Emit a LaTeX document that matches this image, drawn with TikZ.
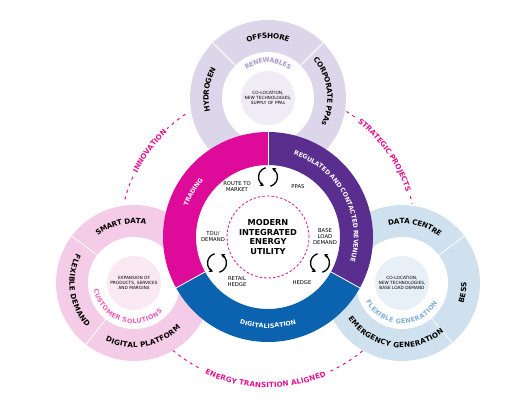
\documentclass[tikz,border=0pt]{standalone}
\usepackage{fontspec}
\setmainfont{DejaVu Sans}
\usetikzlibrary{decorations.text,arrows.meta}

\definecolor{trademag}{HTML}{DE0A99}
\definecolor{regpurple}{HTML}{5A2E8E}
\definecolor{digiblue}{HTML}{0B62AE}
\definecolor{renewband}{HTML}{DCD6EA}
\definecolor{renewcore}{HTML}{EFECF5}
\definecolor{renewtext}{HTML}{A898CE}
\definecolor{custband}{HTML}{F5CCE7}
\definecolor{custcore}{HTML}{FAE8F3}
\definecolor{custtext}{HTML}{EE5CB8}
\definecolor{flexband}{HTML}{CFE0EE}
\definecolor{flexcore}{HTML}{E7EFF7}
\definecolor{flextext}{HTML}{7DAEDC}
\definecolor{dashmag}{HTML}{E0128F}

\newcommand{\bandfont}{\bfseries\fontsize{7.2}{7.2}\selectfont\color{black}}
\newcommand{\ringfont}{\bfseries\fontsize{6.2}{6.2}\selectfont\color{white}}
\newcommand{\linkfont}{\bfseries\fontsize{7.2}{7.2}\selectfont\color{dashmag}}
\newcommand{\themefont}{\bfseries\fontsize{6.4}{6.4}\selectfont}
% text on an arc: centre, radius, start, end, format, text
\newcommand{\arctext}[6]{%
	\path[decorate, decoration={text along path, text align=center, raise=-2.6pt,
		text={|#5|#6}}] ([shift={(#3:#2)}]#1) arc[start angle=#3, end angle=#4, radius=#2];}

\tikzstyle{smalllabel} = [font=\fontsize{5.3}{6}\selectfont, align=center, 
	inner sep=0pt, text=black]
\tikzstyle{corelabel} = [font=\fontsize{4.3}{5.2}\selectfont, align=center, 
	inner sep=0pt, text=black]
\tikzstyle{divider} = [white, line width=0.8pt]
\tikzstyle{cycle} = [line width=1.3pt, -{Stealth[length=4pt,width=4.6pt]}]
\tikzstyle{linkdash} = [dashmag, line width=1pt, dash pattern=on 3pt off 4pt]

\begin{document}
\begin{tikzpicture}[x=1pt, y=1pt]
\useasboundingbox (0,0) rectangle (515,400);

\coordinate (util) at (268,163);
\coordinate (renew) at (268,302);
\coordinate (custom) at (134,117);
\coordinate (flexgen) at (402,117);

% dashed links between the satellites
\draw[linkdash] ([shift={(124:148pt)}]util) arc[start angle=124, end angle=133, radius=148pt];
\draw[linkdash] ([shift={(156:148pt)}]util) arc[start angle=156, end angle=166, radius=148pt];
\draw[linkdash] ([shift={(58:148pt)}]util) arc[start angle=58, end angle=54, radius=148pt];
\draw[linkdash] ([shift={(16:148pt)}]util) arc[start angle=16, end angle=13, radius=148pt];
\draw[linkdash] ([shift={(230:148pt)}]util) arc[start angle=230, end angle=243, radius=148pt];
\draw[linkdash] ([shift={(295:148pt)}]util) arc[start angle=295, end angle=310, radius=148pt];
\arctext{util}{148pt}{164}{124}{\linkfont}{INNOVATION}
\arctext{util}{148pt}{62}{8}{\linkfont}{STRATEGIC PROJECTS}
\arctext{util}{148pt}{229}{309}{\linkfont}{ENERGY TRANSITION ALIGNED}

% renewables
\fill[renewband] (renew) circle[radius=78pt];
\fill[white] (renew) circle[radius=46pt];
\fill[renewcore] (renew) circle[radius=27pt];
\foreach \a in {45,135}
	\draw[divider] ([shift={(\a:46pt)}]renew) -- ([shift={(\a:78pt)}]renew);
\node[corelabel] (renewtxt) at (renew) {CO-LOCATION,\\NEW TECHNOLOGIES,\\SUPPLY OF PPAs};
\arctext{renew}{62pt}{125}{55}{\bandfont}{OFFSHORE}
\arctext{renew}{62pt}{212}{132}{\bandfont}{HYDROGEN}
\arctext{renew}{62pt}{50}{-36}{\bandfont}{CORPORATE PPAs}
\arctext{renew}{38pt}{150}{30}{\themefont\color{renewtext}}{RENEWABLES}

% customer solutions
\fill[custband] (custom) circle[radius=78pt];
\fill[white] (custom) circle[radius=46pt];
\fill[custcore] (custom) circle[radius=27pt];
\foreach \a in {143,232}
	\draw[divider] ([shift={(\a:46pt)}]custom) -- ([shift={(\a:78pt)}]custom);
\node[corelabel] (custtxt) at (custom) {EXPANSION OF\\PRODUCTS, SERVICES\\AND MARGINS};
\arctext{custom}{62pt}{140}{66}{\bandfont}{SMART DATA}
\arctext{custom}{62pt}{140}{236}{\bandfont}{FLEXIBLE DEMAND}
\arctext{custom}{62pt}{230}{330}{\bandfont}{DIGITAL PLATFORM}
\arctext{custom}{38pt}{167}{337}{\themefont\color{custtext}}{CUSTOMER SOLUTIONS}

% flexible generation
\fill[flexband] (flexgen) circle[radius=78pt];
\fill[white] (flexgen) circle[radius=46pt];
\fill[flexcore] (flexgen) circle[radius=27pt];
\foreach \a in {37,310}
	\draw[divider] ([shift={(\a:46pt)}]flexgen) -- ([shift={(\a:78pt)}]flexgen);
\node[corelabel] (flextxt) at (flexgen) {CO-LOCATION,\\NEW TECHNOLOGIES,\\BASE LOAD DEMAND};
\arctext{flexgen}{62pt}{115}{39}{\bandfont}{DATA CENTRE}
\arctext{flexgen}{62pt}{-30}{12}{\bandfont}{BESS}
\arctext{flexgen}{62pt}{205}{319}{\bandfont}{EMERGENCY GENERATION}
\arctext{flexgen}{38pt}{184}{354}{\themefont\color{flextext}}{FLEXIBLE GENERATION}

% main ring
\fill[white] (util) circle[radius=72pt];
\fill[trademag] ([shift={(90:105pt)}]util) arc[start angle=90, end angle=209, radius=105pt]
	-- ([shift={(209:72pt)}]util) arc[start angle=209, end angle=90, radius=72pt] -- cycle;
\fill[regpurple] ([shift={(-29:105pt)}]util) arc[start angle=-29, end angle=90, radius=105pt]
	-- ([shift={(90:72pt)}]util) arc[start angle=90, end angle=-29, radius=72pt] -- cycle;
\fill[digiblue] ([shift={(209:105pt)}]util) arc[start angle=209, end angle=331, radius=105pt]
	-- ([shift={(331:72pt)}]util) arc[start angle=331, end angle=209, radius=72pt] -- cycle;
\foreach \a in {90,209,331}
	\draw[divider] ([shift={(\a:72pt)}]util) -- ([shift={(\a:105pt)}]util);
\arctext{util}{88.5pt}{190}{108}{\ringfont}{TRADING}
\arctext{util}{88.5pt}{98}{-42}{\ringfont}{REGULATED AND CONTACTED REVENUE}
\arctext{util}{88.5pt}{230}{310}{\ringfont}{DIGITALISATION}

% centre
\draw[dashmag, line width=0.8pt, dash pattern=on 2.5pt off 2pt] (util) circle[radius=41pt];
\node[font=\bfseries\fontsize{8.2}{9.8}\selectfont, align=center] (utility) at (util)
	{MODERN\\INTEGRATED\\ENERGY\\UTILITY};

\node[smalllabel] (route) at (237,213) {ROUTE TO\\MARKET};
\node[smalllabel] (ppas) at (298,213) {PPAS};
\node[smalllabel] (tou) at (213,163) {TOU/\\DEMAND};
\node[smalllabel] (retail) at (237,118) {RETAIL\\HEDGE};
\node[smalllabel] (base) at (325,163) {BASE\\LOAD\\DEMAND};
\node[smalllabel] (hedge) at (302,117) {HEDGE};

\coordinate (cyctop) at (268,223);
\coordinate (cycleft) at (217,137);
\coordinate (cycright) at (320,137);
\foreach \c in {cyctop,cycleft,cycright} {
	\draw[cycle] ([shift={(105:9.5pt)}]\c) arc[start angle=105, end angle=245, radius=9.5pt];
	\draw[cycle] ([shift={(285:9.5pt)}]\c) arc[start angle=285, end angle=425, radius=9.5pt];
}

\end{tikzpicture}
\end{document}
